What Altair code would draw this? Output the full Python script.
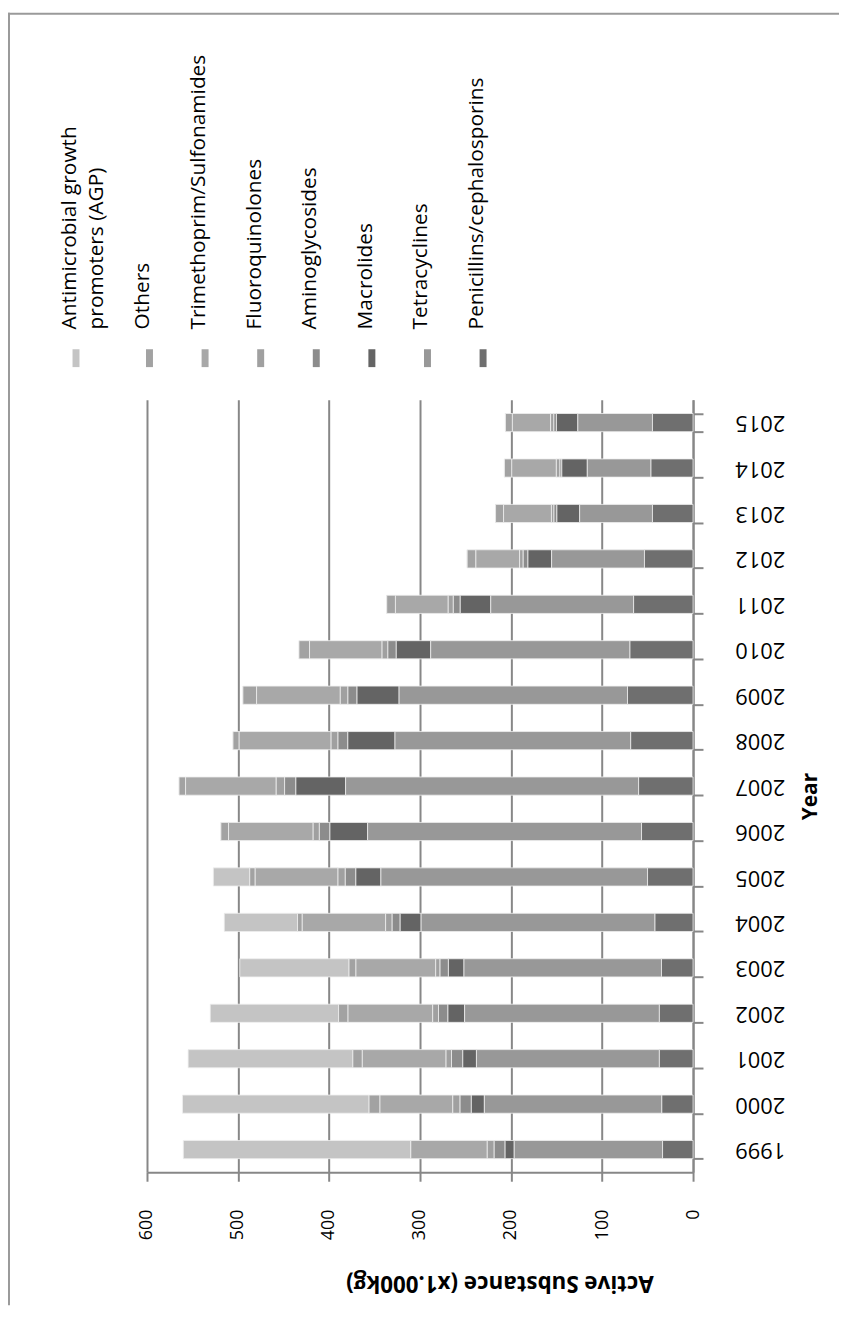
import altair as alt
import pandas as pd

years = [1999, 2000, 2001, 2002, 2003, 2004, 2005, 2006, 2007, 2008,
         2009, 2010, 2011, 2012, 2013, 2014, 2015]

series = [
    "Antimicrobial growth promoters (AGP)",
    "Others",
    "Trimethoprim/Sulfonamides",
    "Fluoroquinolones",
    "Aminoglycosides",
    "Macrolides",
    "Tetracyclines",
    "Penicillins/cephalosporins",
]
legend_labels = [
    "Antimicrobial growth\npromoters (AGP)",
    "Others",
    "Trimethoprim/Sulfonamides",
    "Fluoroquinolones",
    "Aminoglycosides",
    "Macrolides",
    "Tetracyclines",
    "Penicillins/cephalosporins",
]
colors = ["#c4c4c4", "#a2a2a2", "#a8a8a8", "#a0a0a0",
          "#8c8c8c", "#646464", "#989898", "#6f6f6f"]

agp = [250, 205, 181, 141, 120, 80.5, 40, 0, 0, 0, 0, 0, 0, 0, 0, 0, 0]
others = [0, 12, 10.4, 10.4, 7.6, 5.2, 6, 8.4, 7.2, 6.8, 15, 11.6, 9.6, 9.6, 8.8, 8, 7.6]
trimethoprim = [84, 80, 92, 93, 87.6, 91.6, 91, 93, 99.6, 101, 92, 79.7, 58, 48, 52.6, 49, 42]
fluoroquinolones = [7.6, 8, 6, 6.4, 4.8, 7.2, 8, 6.8, 9.2, 7.6, 8.4, 6.4, 5.6, 4, 2.8, 4, 3.6]
aminoglycosides = [12, 12.4, 12.4, 10.4, 9.2, 8.8, 11.6, 11.6, 12.4, 10.8, 10, 9.2, 7.6, 5.2, 3.2, 2, 2.8]
macrolides = [10, 14.3, 15, 18.3, 17.1, 23, 27.5, 41.4, 54.6, 51.8, 46.2, 37.8, 33.5, 26, 25, 28, 23.5]
tetracyclines = [163, 195, 201, 214, 217, 257, 293, 301, 322, 259, 251, 219, 157, 102, 80, 70, 82]
penicillins = [33.5, 34.3, 37, 37, 34.7, 41.8, 50, 56.6, 59.8, 68.5, 72, 69.3, 65.3, 53.4, 44.6, 46.2, 44.6]

values_by_series = [agp, others, trimethoprim, fluoroquinolones,
                    aminoglycosides, macrolides, tetracyclines, penicillins]

value_ticks = [0, 100, 200, 300, 400, 500, 600]

rows = []
for si, (name, vals) in enumerate(zip(series, values_by_series)):
    for y, v in zip(years, vals):
        rows.append({"year": str(y), "series": name, "value": v,
                     "stack": len(series) - 1 - si})
df = pd.DataFrame(rows)

leg = pd.DataFrame({"series": series, "label": legend_labels})

FONT = "Open Sans"
GRID = "#878787"
W, H = 550, 778

color = alt.Color("series:N", scale=alt.Scale(domain=series, range=colors), legend=None)

bars = alt.Chart(df).mark_bar(stroke="#eeeeee", strokeWidth=0.8).encode(
    x=alt.X(
        "value:Q", stack="zero",
        scale=alt.Scale(domain=[0, 600], reverse=True, nice=False),
        axis=alt.Axis(
            values=value_ticks, grid=True, gridColor=GRID, gridWidth=2,
            domainColor=GRID, domainWidth=2, tickColor=GRID, tickWidth=2, tickSize=9,
            labelAngle=270, labelFontSize=18, labelFont=FONT, labelColor="#000",
            labelPadding=28,
            title="Active Substance (x1.000kg)", titleAngle=180,
            titleFont=FONT, titleFontSize=22.5, titleFontWeight="bold", titleColor="#000",
            titleAlign="center", titleBaseline="middle", titleX=355, titleY=111,
        ),
    ),
    y=alt.Y(
        "year:O", sort=[str(y) for y in reversed(years)],
        scale=alt.Scale(paddingInner=0.6, paddingOuter=0.3),
        axis=alt.Axis(
            orient="right", grid=False, tickBand="extent",
            domainColor=GRID, domainWidth=2, tickColor=GRID, tickWidth=2, tickSize=10,
            labelAngle=180, labelAlign="right", labelBaseline="middle",
            labelFontSize=22, labelFont=FONT, labelColor="#000", labelPadding=32,
            title="Year", titleAngle=270, titleFont=FONT, titleFontSize=21,
            titleFontWeight="bold", titleColor="#000", titleAlign="center",
            titleBaseline="middle", titleX=118, titleY=399,
        ),
    ),
    color=color,
    order=alt.Order("stack:Q"),
)

sym_path = "M-0.39,-1L0.39,-1L0.39,1L-0.39,1Z"

agp_leg = alt.Chart(leg.iloc[:1])
rest_leg = alt.Chart(leg.iloc[1:])

x_agp = alt.X("series:N", scale=alt.Scale(type="point", domain=series[:1], range=[-71.5, -71.5]), axis=None)
x_rest = alt.X("series:N", scale=alt.Scale(type="point", domain=series[1:], range=[2.5, 338.5], padding=0), axis=None)


def legend_layers(base, xenc):
    sym = base.mark_point(shape=sym_path, size=324, filled=True, opacity=1, strokeWidth=0).encode(
        x=xenc, y=alt.value(-42), color=color)
    txt = base.mark_text(angle=270, align="left", baseline="alphabetic", font=FONT,
                         fontSize=21, color="#000", lineBreak="\n", lineHeight=27).encode(
        x=xenc, y=alt.value(-71), text="label:N")
    return [sym, txt]


frame_top = alt.Chart(leg.iloc[:1]).mark_rule(color="#9a9a9a", strokeWidth=2).encode(
    x=alt.value(-140), x2=alt.value(W + 149), y=alt.value(-389))
frame_left = alt.Chart(leg.iloc[:1]).mark_rule(color="#9a9a9a", strokeWidth=2).encode(
    x=alt.value(-139), y=alt.value(-390), y2=alt.value(H + 134))

chart = alt.layer(
    bars, *legend_layers(agp_leg, x_agp), *legend_layers(rest_leg, x_rest),
    frame_top, frame_left,
).resolve_scale(x="independent").properties(
    width=W, height=H,
    autosize=alt.AutoSizeParams(type="none"),
    padding={"left": 140, "top": 390, "right": 147, "bottom": 134},
).configure_view(stroke=None)

chart.save("out.html", embed_options={"renderer": "svg", "actions": False})
